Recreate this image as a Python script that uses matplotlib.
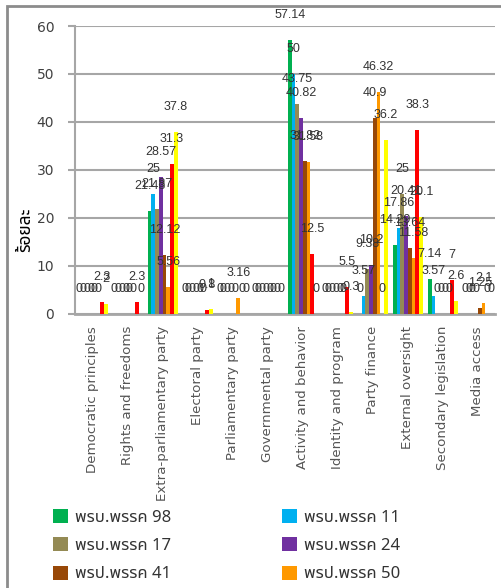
import matplotlib
matplotlib.use("Agg")
import matplotlib.pyplot as plt
import numpy as np
from matplotlib.patches import Rectangle, Patch

# ---------------- data ----------------
categories = ["Democratic principles", "Rights and freedoms", "Extra-parliamentary party",
              "Electoral party", "Parliamentary party", "Governmental party",
              "Activity and behavior", "Identity and program", "Party finance",
              "External oversight", "Secondary legislation", "Media access"]

series_names = ["พรบ.พรรค 98", "พรบ.พรรค 11", "พรบ.พรรค 17", "พรบ.พรรค 24",
                "พรป.พรรค 41", "พรป.พรรค 50", "series_red", "series_yellow"]

s_98 = [0, 0, 21.43, 0, 0, 0, 57.14, 0, 0, 14.29, 7.14, 0]
s_11 = [0, 0, 25, 0, 0, 0, 50, 0, 3.57, 17.86, 3.57, 0]
s_17 = [0, 0, 21.87, 0, 0, 0, 43.75, 0, 9.38, 25, 0, 0]
s_24 = [0, 0, 28.57, 0, 0, 0, 40.82, 0, 10.2, 20.41, 0, 0]
s_41 = [0, 0, 12.12, 0, 0, 0, 31.82, 0, 40.9, 13.64, 0, 1.25]
s_50 = [0, 0, 5.56, 0, 3.16, 0, 31.58, 0, 46.32, 11.58, 0, 2.1]
s_red = [2.3, 2.3, 31.3, 0.8, 0, 0, 12.5, 5.5, 0, 38.3, 7, 0]
s_yellow = [2, 0, 37.8, 1, 0, 0, 0, 0.3, 36.2, 20.1, 2.6, 0]

series_values = [s_98, s_11, s_17, s_24, s_41, s_50, s_red, s_yellow]
colors = ["#00B050", "#00B0F0", "#948A54", "#7030A0", "#984807", "#FF9900", "#FF0000", "#FFFF00"]
legend_count = 6

yticks = [0, 10, 20, 30, 40, 50, 60]
ylabel = "ร้อยละ"

# ---------------- figure ----------------
W, H, DPI = 501, 588, 100
fig = plt.figure(figsize=(W / DPI, H / DPI), dpi=DPI)
thai = ['Noto Sans Thai', 'DejaVu Sans']
lab_font = ['Liberation Sans', 'DejaVu Sans']
cat_font = ['DejaVu Sans']

def fx(px):
    return px / W

def fy(py):
    return 1 - py / H

ax_l, ax_r, ax_t, ax_b = 75, 495.5, 26, 313.5
ax = fig.add_axes([fx(ax_l), fy(ax_b), fx(ax_r - ax_l), (ax_b - ax_t) / H])

n_ser = len(series_values)
bw = 0.107
x = np.arange(len(categories))
grid_c = "#A6A6A6"
for i, (vals, col) in enumerate(zip(series_values, colors)):
    off = (i - (n_ser - 1) / 2) * bw
    ax.bar(x + off, vals, width=bw, color=col, zorder=3)
    for xi, v in zip(x + off, vals):
        ax.annotate(f"{v:g}", (xi, v), xytext=(0, 18), textcoords="offset points",
                    ha="center", va="center", fontsize=9, color="#333333",
                    family=lab_font, zorder=5)

ax.set_xlim(-0.5, len(categories) - 0.5)
ax.set_ylim(0, 60)
ax.set_yticks(yticks)
ax.set_yticklabels([str(t) for t in yticks], family=cat_font, fontsize=10, color="#404040")
ax.set_xticks(x)
ax.set_xticklabels(categories, rotation=90, family=cat_font, fontsize=9.6, color="#555555",
                   va="top", ha="center")
ax.tick_params(axis="x", length=0, pad=9)
ax.tick_params(axis="y", length=5, width=1.5, color=grid_c, pad=10)
ax.yaxis.grid(True, color=grid_c, lw=1.5, zorder=0)
ax.set_axisbelow(True)
for s in ["top", "right"]:
    ax.spines[s].set_visible(False)
ax.spines["left"].set_color(grid_c)
ax.spines["left"].set_linewidth(1.5)
ax.spines["bottom"].set_color(grid_c)
ax.spines["bottom"].set_linewidth(2)
ax.patch.set_alpha(0)

fig.text(fx(25), fy(230), ylabel, rotation=90, ha="center", va="center",
         family=thai, fontweight="bold", fontsize=12.5, color="#000000")

# chart border
fig.patches.append(Rectangle((fx(7), -0.1), 1.2, fy(6) + 0.1, transform=fig.transFigure,
                             fill=False, edgecolor="#8C8C8C", lw=2))

handles = [Patch(facecolor=colors[i], edgecolor="none") for i in range(legend_count)]
order = [0, 2, 4, 1, 3, 5]
leg = fig.legend([handles[i] for i in order], [series_names[i] for i in order],
                 ncol=2, loc="upper left", bbox_to_anchor=(fx(53), fy(509)),
                 frameon=False, prop={"family": thai, "size": 12},
                 handlelength=0.9, handleheight=0.9, handletextpad=0.42,
                 columnspacing=6.65, labelspacing=0.7, borderaxespad=0, borderpad=0)
for t in leg.get_texts():
    t.set_color("#333333")

fig.savefig("out.png", dpi=DPI)
